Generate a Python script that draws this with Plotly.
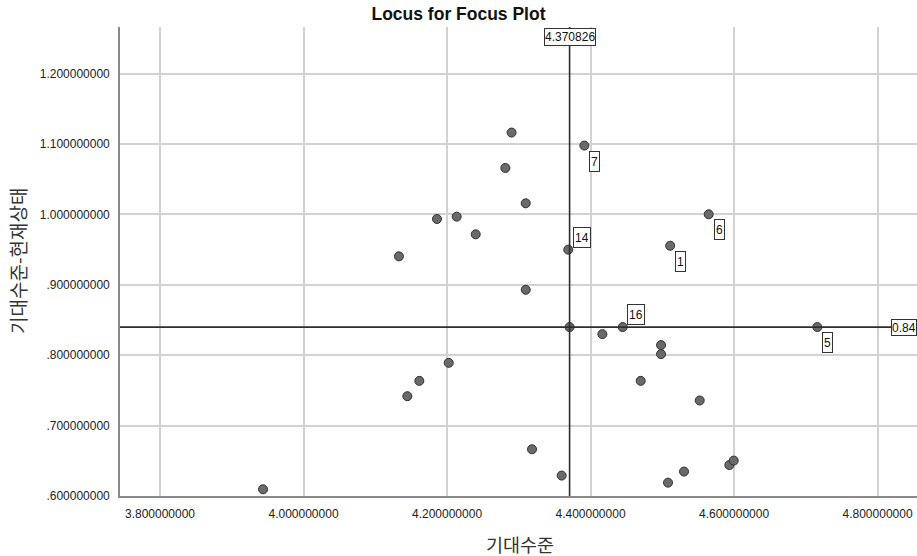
import plotly.graph_objects as go

# ---- data ----
x_expect = [4.1330, 4.1860, 4.2135, 4.2900, 4.3914, 4.2813, 4.3097, 4.2400,
            4.3690, 4.5110, 4.5647, 4.3097, 4.4165, 4.4449, 4.4983, 4.4983,
            4.4699, 4.5522, 4.7161, 4.3185, 4.3598, 4.5080, 4.5303, 4.5935,
            4.5996, 4.2024, 4.1614, 4.1447, 3.9436]
y_gap = [0.9405, 0.9936, 0.9969, 1.1164, 1.0979, 1.0661, 1.0159, 0.9718,
         0.9500, 0.9556, 1.0003, 0.8930, 0.8300, 0.8400, 0.8144, 0.8016,
         0.7636, 0.7357, 0.8400, 0.6664, 0.6290, 0.6190, 0.6347, 0.6440,
         0.6503, 0.7892, 0.7636, 0.7418, 0.6095]
point_ids = ["", "", "", "", "7", "", "", "",
             "14", "1", "6", "", "", "16", "", "",
             "", "", "5", "", "", "", "", "",
             "", "", "", "", ""]
center_x = 4.370826
center_y = 0.84
center_x_label = "4.370826"
center_y_label = "0.84"

x_ticks = [3.8, 4.0, 4.2, 4.4, 4.6, 4.8]
x_ticktext = ["3.800000000", "4.000000000", "4.200000000", "4.400000000",
              "4.600000000", "4.800000000"]
y_ticks = [0.6, 0.7, 0.8, 0.9, 1.0, 1.1, 1.2]
y_ticktext = [".600000000", ".700000000", ".800000000", ".900000000",
              "1.000000000", "1.100000000", "1.200000000"]

title_text = "Locus for Focus Plot"
x_title = "기대수준"
y_title = "기대수준-현재상태"

# ---- style ----
labels_above = {"14", "16"}
FONT = "Liberation Sans, Arial, sans-serif"
KFONT = "Noto Sans CJK KR, sans-serif"
marker_style = dict(size=9, color="#6a6a6a", line=dict(color="#303030", width=1))

fig = go.Figure()
fig.add_trace(go.Scatter(x=x_expect, y=y_gap, mode="markers",
                         marker=marker_style, hoverinfo="x+y", showlegend=False))
fig.add_trace(go.Scatter(x=[center_x], y=[center_y], mode="markers",
                         marker=marker_style, hoverinfo="x+y", showlegend=False))

# reference lines
fig.add_shape(type="line", xref="x", yref="paper", x0=center_x, x1=center_x,
              y0=0, y1=1, line=dict(color="#2e2e2e", width=1.6), layer="above")
fig.add_shape(type="line", xref="paper", yref="y", x0=0, x1=1,
              y0=center_y, y1=center_y, line=dict(color="#2e2e2e", width=1.6), layer="above")

annotations = []
for xv, yv, lab in zip(x_expect, y_gap, point_ids):
    if not lab:
        continue
    above = lab in labels_above
    annotations.append(dict(
        x=xv, y=yv, xref="x", yref="y", text=lab, showarrow=False,
        xanchor="left", yanchor="bottom" if above else "top",
        xshift=4.5 if above else 5, yshift=2 if above else -5,
        font=dict(family=FONT, size=12, color="#111"),
        bordercolor="#333", borderwidth=1, borderpad=1, height=17,
        bgcolor="white"))

annotations.append(dict(
    x=center_x, y=1, xref="x", yref="paper", text=center_x_label, showarrow=False,
    xanchor="center", yanchor="top", yshift=-0.5,
    font=dict(family=FONT, size=12, color="#111"),
    bordercolor="#333", borderwidth=1, borderpad=0, height=15.5, bgcolor="white"))
annotations.append(dict(
    x=1, y=center_y, xref="paper", yref="y", text=center_y_label, showarrow=False,
    xanchor="right", yanchor="middle",
    font=dict(family=FONT, size=12, color="#111"),
    bordercolor="#333", borderwidth=1, borderpad=0, height=15, bgcolor="white"))

# axis titles
annotations.append(dict(
    x=0, y=0.5, xref="paper", yref="paper", text=y_title, showarrow=False,
    textangle=-90, xanchor="center", yanchor="middle", xshift=-102.5,
    font=dict(family=KFONT, size=19, color="#333")))
annotations.append(dict(
    x=0.5, y=0, xref="paper", yref="paper", text=x_title, showarrow=False,
    xanchor="center", yanchor="middle", yshift=-47.5, xshift=1.5,
    font=dict(family=KFONT, size=18.5, color="#333")))

fig.update_layout(
    width=917, height=556,
    margin=dict(l=120, r=0, t=27.3, b=60.3),
    paper_bgcolor="white", plot_bgcolor="white",
    title=dict(text="<b>" + title_text + "</b>", x=0.5, xref="container", xanchor="center",
               y=1 - 14 / 556, yref="container", yanchor="middle",
               font=dict(family=FONT, size=17.5, color="#111")),
    annotations=annotations,
    font=dict(family=FONT, size=12, color="#222"),
)
fig.update_xaxes(range=[3.74425, 4.8550], tickvals=x_ticks, ticktext=x_ticktext,
                 showgrid=True, gridcolor="#d2d2d2", gridwidth=1.6,
                 showline=True, linecolor="#8a8a8a", linewidth=1.6,
                 zeroline=False, ticks="", ticklabelstandoff=6,
                 tickfont=dict(family=FONT, size=12, color="#222"))
fig.update_yaxes(range=[0.6, 1.2664], tickvals=y_ticks, ticktext=y_ticktext,
                 showgrid=True, gridcolor="#d2d2d2", gridwidth=1.6,
                 showline=True, linecolor="#8a8a8a", linewidth=1.6,
                 zeroline=False, ticks="", ticklabelstandoff=6,
                 tickfont=dict(family=FONT, size=12, color="#222"))

fig.write_html(
    "out.html",
    config={"displayModeBar": False},
    post_script="document.body.style.margin='0';document.body.style.overflow='hidden';",
)
